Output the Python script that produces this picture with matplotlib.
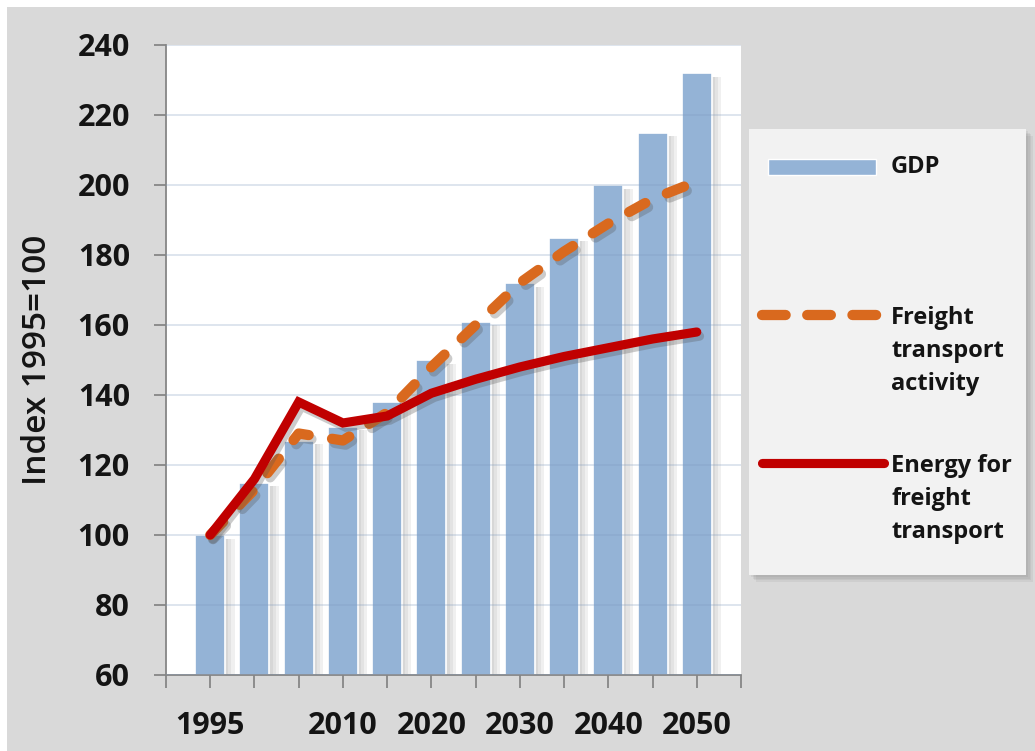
import matplotlib
matplotlib.use("Agg")
import matplotlib.pyplot as plt
from matplotlib.patches import Rectangle
from matplotlib.lines import Line2D
import matplotlib.patheffects as pe

# ---- data ----
years = [1995, 2000, 2005, 2010, 2015, 2020, 2025, 2030, 2035, 2040, 2045, 2050]
gdp = [100, 115, 127, 131, 138, 150, 161, 172, 185, 200, 215, 232]
freight = [100, 113, 129, 127, 135, 148, 160, 172, 181, 189, 196, 201]
energy = [100, 116, 138, 132, 134, 140.5, 144.5, 148, 151, 153.5, 156, 158]
label_years = [1995, 2010, 2020, 2030, 2040, 2050]
yticks = [60, 80, 100, 120, 140, 160, 180, 200, 220, 240]
legend_labels = ["GDP", "Freight\ntransport\nactivity", "Energy for\nfreight\ntransport"]
ylabel = "Index 1995=100"

BAR_C = "#94b3d6"
ORANGE = "#d9691e"
RED = "#c00000"
AXC = "#868686"
TXT = "#141414"

plt.rcParams["font.family"] = ["Open Sans", "DejaVu Sans"]

W, H = 1035, 751
fig = plt.figure(figsize=(W / 100, H / 100), dpi=100)
fig.patch.set_facecolor("white")
fig.add_artist(Rectangle((7 / W, 0), 1 - 7 / W, 1 - 7 / H, transform=fig.transFigure,
                         facecolor="#d9d9d9", edgecolor="none", zorder=-10))

ax = fig.add_axes([166 / W, 1 - 675 / H, (741 - 166) / W, (675 - 45) / H])
ax.set_facecolor("white")
base = 60
ax.set_xlim(1990, 2055)
ax.set_ylim(base, 240)

# soft bar shadows (layered)
for off in [0.35, 0.7, 1.05]:
    ax.bar([y + off for y in years], [g - base - 1.0 for g in gdp], bottom=base, width=3.4,
           color="#8c8c8c", alpha=0.13, linewidth=0, zorder=1)
ax.bar(years, [g - base for g in gdp], bottom=base, width=3.4, color=BAR_C,
       edgecolor="white", linewidth=1.2, zorder=2)

ax.set_yticks(yticks)
ax.set_yticklabels([str(v) for v in yticks], fontweight="bold", fontsize=22, color=TXT)
xt = list(range(1990, 2056, 5))
ax.set_xticks(xt)
ax.set_xticklabels([str(t) if t in label_years else "" for t in xt], fontweight="bold",
                   fontsize=22, color=TXT)
ax.yaxis.grid(True, color="#7f9bbf", alpha=0.3, lw=1.2)
ax.set_axisbelow(False)
for g in ax.yaxis.get_gridlines():
    g.set_zorder(2.5)

shadow = pe.SimpleLineShadow(offset=(2, -3), shadow_color="#555555", alpha=0.3)
ax.plot(years, freight, color=ORANGE, lw=7.4, dashes=(1.8, 2.3), dash_capstyle="round",
        zorder=4, path_effects=[shadow, pe.Normal()])
ax.plot(years, energy, color=RED, lw=6.6, solid_capstyle="round", solid_joinstyle="miter",
        zorder=5, path_effects=[shadow, pe.Normal()])

for s in ["top", "right"]:
    ax.spines[s].set_visible(False)
for s in ["left", "bottom"]:
    ax.spines[s].set_color(AXC)
    ax.spines[s].set_linewidth(1.3)
ax.tick_params(axis="both", direction="out", length=9, width=1.3, color=AXC, pad=17)

fig.text(38 / W, 1 - 360 / H, ylabel, rotation=90, ha="center", va="center",
         fontsize=24, fontweight="semibold", color=TXT)

# ---- legend ----
bx0, by0, bw, bh = 749, 129, 277, 446
for i in range(4):
    off = 2 + i * 1.5
    fig.add_artist(Rectangle(((bx0 + off) / W, 1 - (by0 + bh + off) / H), bw / W, bh / H,
                             transform=fig.transFigure, facecolor="#808080", alpha=0.12,
                             edgecolor="none", zorder=-5))
lax = fig.add_axes([bx0 / W, 1 - (by0 + bh) / H, bw / W, bh / H])
lax.set_xlim(0, bw)
lax.set_ylim(bh, 0)
lax.set_facecolor("#f2f2f2")
lax.set_xticks([])
lax.set_yticks([])
for s in lax.spines.values():
    s.set_visible(False)
lax.add_patch(Rectangle((19, 30), 108, 16, facecolor=BAR_C, edgecolor="white", lw=1))
lax.add_line(Line2D([13, 135], [186, 186], color=ORANGE, lw=7.4, dashes=(2.3, 2.1),
                    dash_capstyle="round"))
lax.add_line(Line2D([13, 135], [334, 334], color=RED, lw=6.6, solid_capstyle="round"))
lax.text(142, 38, legend_labels[0], fontsize=17, fontweight="bold", va="center", color=TXT)
lax.text(142, 222, legend_labels[1], fontsize=17, fontweight="bold", va="center",
         linespacing=1.5, color=TXT)
lax.text(142, 370, legend_labels[2], fontsize=17, fontweight="bold", va="center",
         linespacing=1.5, color=TXT)

fig.savefig("out.png", dpi=100, facecolor=fig.get_facecolor())
